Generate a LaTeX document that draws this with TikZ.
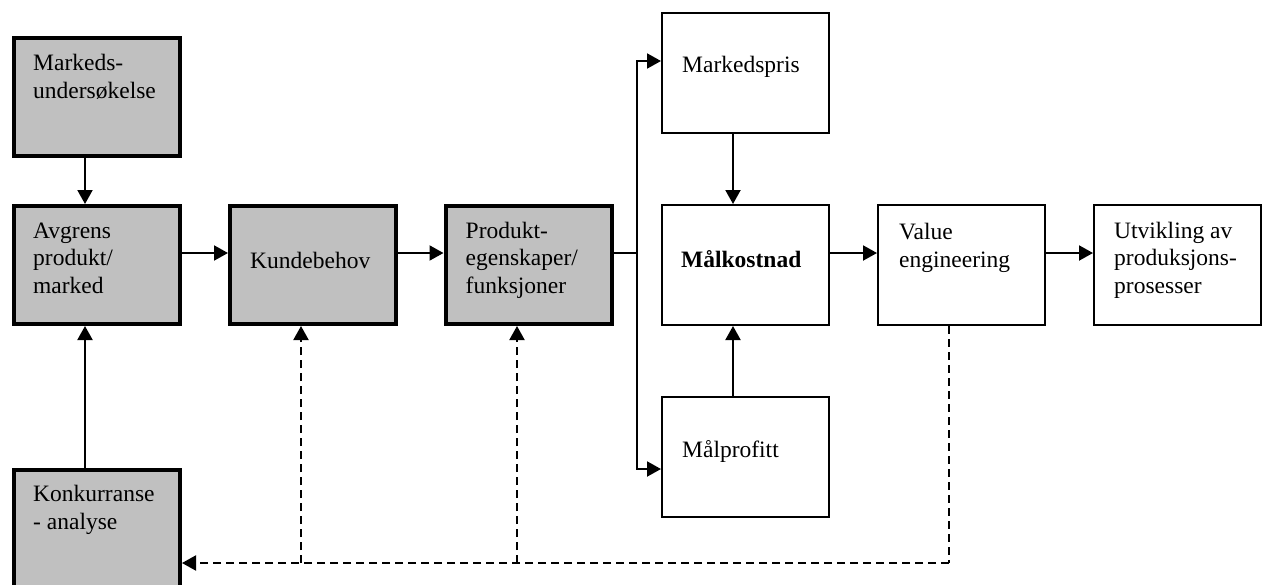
\documentclass[tikz,border=0pt]{standalone}
\usepackage{fontspec}
\setmainfont{Liberation Serif}
\usepackage{xcolor}
\usetikzlibrary{arrows.meta, calc}
\definecolor{boxgray}{HTML}{C0C0C0}

\tikzset{
  graybox/.style={draw, line width=4pt, fill=boxgray, minimum width=166pt, minimum height=118pt, inner sep=0pt},
  whitebox/.style={draw, line width=2pt, fill=white, minimum width=167pt, minimum height=120pt, inner sep=0pt},
  lbl/.style={anchor=base west, align=left, inner sep=0pt, font=\fontsize{23.5}{27.5}\selectfont},
  arr/.style={line width=2pt, -{Triangle[length=14pt, width=15pt]}},
  link/.style={line width=2pt},
  back/.style={line width=2pt, dash pattern=on 8pt off 5pt}
}

\begin{document}
\begin{tikzpicture}[x=1pt, y=-1pt]
  \useasboundingbox (0,0) rectangle (1264,584);

  % Boxes
  \node[graybox] (markeds) at (97, 96.5) {};
  \node[graybox] (avgrens) at (97, 265) {};
  \node[graybox] (kunde) at (313, 265) {};
  \node[graybox] (produkt) at (528.5, 265) {};
  \node[graybox] (konk) at (97, 528.5) {};
  \node[whitebox] (mpris) at (745.5, 72.5) {};
  \node[whitebox] (mkost) at (745.5, 265) {};
  \node[whitebox] (mprofitt) at (745.5, 456.5) {};
  \node[whitebox] (value) at (961.5, 265) {};
  \node[whitebox] (utvikling) at (1177.5, 265) {};

  % Texts (anchored at the baseline of the last line)
  \node[lbl] (t-markeds) at ($(markeds.north west)+(21,62.5)$) {Markeds-\\undersøkelse};
  \node[lbl] (t-avgrens) at ($(avgrens.north west)+(21,89)$) {Avgrens\\produkt/\\marked};
  \node[lbl] (t-kunde) at ($(kunde.north west)+(22,64)$) {Kundebehov};
  \node[lbl] (t-produkt) at ($(produkt.north west)+(22,89)$) {Produkt-\\egenskaper/\\funksjoner};
  \node[lbl] (t-konk) at ($(konk.north west)+(21,61.5)$) {Konkurranse\\- analyse};
  \node[lbl] (t-mpris) at ($(mpris.north west)+(21,61)$) {Markedspris};
  \node[lbl] (t-mkost) at ($(mkost.north west)+(20,63)$) {\textbf{Målkostnad}};
  \node[lbl] (t-mprofitt) at ($(mprofitt.north west)+(21,62)$) {Målprofitt};
  \node[lbl] (t-value) at ($(value.north west)+(22,63)$) {Value\\engineering};
  \node[lbl] (t-utvikling) at ($(utvikling.north west)+(21,89)$) {Utvikling av\\produksjons-\\prosesser};

  % Main flow
  \draw[arr] ([xshift=-12pt]markeds.south) -- ([xshift=-12pt]avgrens.north);
  \draw[arr] ([xshift=-12pt]konk.north) -- ([xshift=-12pt]avgrens.south);
  \draw[arr] ([yshift=12pt]avgrens.east) -- ([yshift=12pt]kunde.west);
  \draw[arr] ([yshift=12pt]kunde.east) -- ([yshift=12pt]produkt.west);

  % Split to price and profit
  \coordinate (split) at (637, 253);
  \draw[link] ([yshift=12pt]produkt.east) -- (split);
  \draw[arr] (split) |- ([yshift=11.5pt]mpris.west);
  \draw[arr] (split) |- ([yshift=-12.5pt]mprofitt.west);
  \draw[arr] ([xshift=-12.5pt]mpris.south) -- ([xshift=-12.5pt]mkost.north);
  \draw[arr] ([xshift=-12.5pt]mprofitt.north) -- ([xshift=-12.5pt]mkost.south);
  \draw[arr] ([yshift=12pt]mkost.east) -- ([yshift=12pt]value.west);
  \draw[arr] ([yshift=12pt]value.east) -- ([yshift=12pt]utvikling.west);

  % Feedback (dashed)
  \coordinate (ret) at (949, 563);
  \coordinate (vd) at ([xshift=-12.5pt]value.south);
  \coordinate (kd) at ([xshift=-12pt]kunde.south);
  \coordinate (pd) at ([xshift=-11.5pt]produkt.south);
  \draw[back] (vd) -- (vd |- ret);
  \draw[back, -{Triangle[length=14pt, width=15pt]}] (ret) -- ([yshift=-34.5pt]konk.east);
  \draw[back, -{Triangle[length=14pt, width=15pt]}] (kd |- ret) -- (kd);
  \draw[back, -{Triangle[length=14pt, width=15pt]}] (pd |- ret) -- (pd);
\end{tikzpicture}
\end{document}
